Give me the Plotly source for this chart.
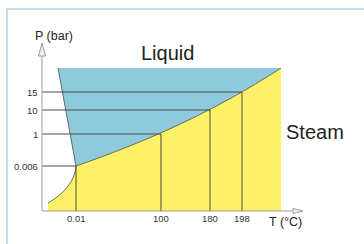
import plotly.graph_objects as go

# ---- data (labels of the schematic phase diagram) ----
temp_labels = ["0.01", "100", "180", "198"]
pres_labels = ["0.006", "1", "10", "15"]
region_labels = ["Liquid", "Steam"]
axis_titles = ["P (bar)", "T (°C)"]

# ---- schematic layout positions (diagram units = pixels) ----
temp_pos = [76, 161, 210, 242]
pres_pos = [166, 134, 110, 92]
x_axis_y = 211
y_axis_x = 42

FONT = "Liberation Sans, Arial, sans-serif"
BLUE = "#8ecadc"
YELLOW = "#fff165"
LINE = "#4a4a4a"
AXIS = "#9a9a9a"

fig = go.Figure()

# invisible trace so axes exist
fig.add_trace(go.Scatter(x=[0, 364], y=[0, 244], mode="markers",
                         marker=dict(opacity=0), hoverinfo="skip", showlegend=False))

vap = "C 144,142.5 213,112.5 281,68"      # vaporization curve from triple point
vap_rev = "C 213,112.5 144,142.5 76,166"
sub = "C 62,195 75,182 76,166"            # sublimation curve to triple point

shapes = []
# frame
shapes.append(dict(type="rect", x0=7, y0=9, x1=380, y1=260,
                   line=dict(color="#acd6e6", width=1.5), fillcolor="rgba(0,0,0,0)", layer="below"))
# liquid region
shapes.append(dict(type="path", path="M 58,68 L 281,68 " + vap_rev + " Z",
                   fillcolor=BLUE, line=dict(width=0), layer="below"))
# steam region
shapes.append(dict(type="path", path="M 48,211 L 48,203 " + sub + " " + vap + " L 281,211 Z",
                   fillcolor=YELLOW, line=dict(width=0), layer="below"))
# curves
shapes.append(dict(type="path", path="M 76,166 " + vap, line=dict(color=LINE, width=0.8)))
shapes.append(dict(type="path", path="M 48,203 " + sub, line=dict(color=LINE, width=0.8)))
shapes.append(dict(type="line", x0=76, y0=166, x1=58, y1=68, line=dict(color=LINE, width=0.8)))

# guide lines
for tp, pp in zip(temp_pos, pres_pos):
    shapes.append(dict(type="line", x0=y_axis_x, y0=pp, x1=tp, y1=pp, line=dict(color=LINE, width=1)))
    shapes.append(dict(type="line", x0=tp, y0=x_axis_y, x1=tp, y1=pp, line=dict(color=LINE, width=1)))

# axes
shapes.append(dict(type="line", x0=y_axis_x, y0=x_axis_y, x1=y_axis_x, y1=55, line=dict(color=AXIS, width=1)))
shapes.append(dict(type="line", x0=y_axis_x, y0=x_axis_y, x1=294, y1=x_axis_y, line=dict(color=AXIS, width=1)))
shapes.append(dict(type="path", path="M 42,43 L 45.5,56 L 38.5,56 Z",
                   fillcolor="#f2f2f2", line=dict(color=AXIS, width=1)))
shapes.append(dict(type="path", path="M 303,211 L 293,208.5 L 293,213.5 Z",
                   fillcolor="#f2f2f2", line=dict(color=AXIS, width=1)))

annotations = []
for lab, pp in zip(pres_labels, pres_pos):
    annotations.append(dict(x=40, y=pp, text=lab, xref="x", yref="y", showarrow=False,
                            xanchor="right", yanchor="middle",
                            font=dict(family=FONT, size=9.5, color="#333")))
for lab, tp in zip(temp_labels, temp_pos):
    annotations.append(dict(x=tp, y=218, text=lab, xref="x", yref="y", showarrow=False,
                            xanchor="center", yanchor="middle",
                            font=dict(family=FONT, size=9.5, color="#333")))
annotations.append(dict(x=33, y=36, text=axis_titles[0], xref="x", yref="y", showarrow=False,
                        xanchor="left", yanchor="middle", font=dict(family=FONT, size=12.5, color="#222")))
annotations.append(dict(x=285, y=222, text=axis_titles[1], xref="x", yref="y", showarrow=False,
                        xanchor="center", yanchor="middle", font=dict(family=FONT, size=12.5, color="#222")))
annotations.append(dict(x=167, y=53, text=region_labels[0], xref="x", yref="y", showarrow=False,
                        xanchor="center", yanchor="middle", font=dict(family=FONT, size=20, color="#222")))
annotations.append(dict(x=315, y=132, text=region_labels[1], xref="x", yref="y", showarrow=False,
                        xanchor="center", yanchor="middle", font=dict(family=FONT, size=20, color="#222")))

fig.update_layout(
    width=364, height=244,
    margin=dict(l=0, r=0, t=0, b=0),
    paper_bgcolor="white", plot_bgcolor="white",
    xaxis=dict(range=[0, 364], visible=False, fixedrange=True),
    yaxis=dict(range=[244, 0], visible=False, fixedrange=True),
    shapes=shapes, annotations=annotations, showlegend=False,
)
fig.write_html("out.html", config={"displayModeBar": False},
               post_script="document.body.style.margin='0px';document.body.style.overflow='hidden';")
